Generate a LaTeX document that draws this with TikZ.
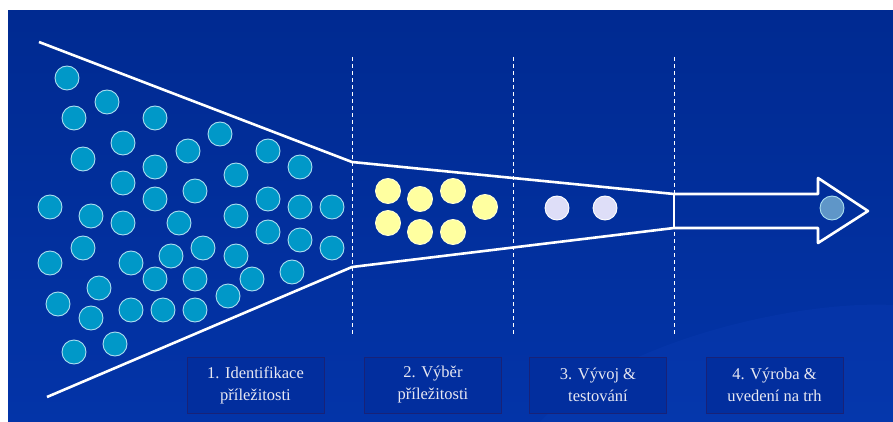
\documentclass[tikz,border=0pt]{standalone}
\usepackage{fontspec}
\setmainfont{Liberation Serif}
\usetikzlibrary{calc}
\usetikzlibrary{positioning}

\definecolor{bgblue}{RGB}{0,42,145}
\definecolor{bgblueb}{RGB}{3,52,168}
\definecolor{swoosh}{RGB}{12,62,182}
\definecolor{boxblue}{RGB}{2,46,158}
\definecolor{boxline}{RGB}{24,34,120}
\definecolor{teal}{RGB}{0,152,200}
\definecolor{tealrim}{RGB}{170,222,240}
\definecolor{lemon}{RGB}{255,255,160}
\definecolor{lemonrim}{RGB}{255,255,210}
\definecolor{lilac}{RGB}{222,222,248}
\definecolor{steel}{RGB}{95,150,200}
\definecolor{labeltext}{RGB}{232,232,242}

\tikzset{
  dot/.style={circle, minimum size=24pt, inner sep=0pt, line width=.9pt},
  idea/.style={dot, fill=teal, draw=tealrim},
  pick/.style={dot, minimum size=25pt, fill=lemon, draw=lemonrim},
  proto/.style={dot, fill=lilac, draw=white},
  product/.style={dot, fill=steel, draw=tealrim},
  stage/.style={draw=boxline, fill=boxblue, line width=.8pt, minimum width=137pt,
    minimum height=56pt, align=center, text=labeltext, inner sep=0pt,
    font=\fontsize{16.5}{22}\selectfont},
  funnel/.style={white, line width=2.6pt, line join=round},
  border/.style={white, line width=.8pt, dash pattern=on 4pt off 3pt}
}

\begin{document}
\begin{tikzpicture}[x=1pt,y=-1pt]
\useasboundingbox (0,0) rectangle (893,422);
\fill[white] (0,0) rectangle (893,422);
\shade[top color=bgblue, bottom color=bgblueb] (8,11) rectangle (893,422);
\fill[swoosh, opacity=.3] (540,422) .. controls (610,345) and (790,300) .. (893,305) -- (893,422) -- cycle;

% stage borders
\foreach \x [count=\i] in {352, 513, 674} {
 \coordinate (b\i top) at (\x,57);
 \coordinate (b\i bot) at (\x,336);
 \draw[border] (b\i top) -- (b\i bot);
}

% funnel and arrow
\coordinate (mouthT) at (39,42);
\coordinate (neckT) at (352,162);
\coordinate (shaftT) at (674,194);
\coordinate (shaftB) at (674,228);
\coordinate (neckB) at (352,267);
\coordinate (mouthB) at (47,397);
\draw[funnel] (mouthT) -- (neckT) -- (shaftT) -- ++(144,0) -- ++(0,-16) -- (868,211)
  -- (818,243) -- ++(0,-15) -- (shaftB) -- (neckB) -- (mouthB);
\draw[funnel] (shaftT) -- (shaftB);

% ideas
\foreach \x/\y [count=\i] in {67/78, 107/102, 74/118, 155/118, 220/134, 123/143, 188/151,
  268/151, 83/159, 155/167, 300/167, 236/175, 123/183, 195/191, 155/199, 268/199,
  50/207, 300/207, 332/207, 91/216, 236/216, 123/223, 179/223, 268/232, 300/240,
  332/248, 83/248, 50/263, 131/263, 171/256, 203/248, 236/256, 99/288, 155/279,
  195/279, 252/279, 292/272, 228/296, 58/304, 131/310, 163/310, 195/310, 91/318,
  115/344, 74/352}
 \node[idea] (i\i) at (\x,\y) {};

\foreach \x/\y [count=\i] in {388/191, 420/199, 453/191, 485/207, 388/223, 420/232, 453/232}
 \node[pick] (p\i) at (\x,\y) {};

\node[proto] (t1) at (557,208) {};
\node[proto] (t2) at (605,208) {};
\node[product] (r1) at (832,208) {};

% stage labels
\node[stage] (s1) at (255.5,385) {1. Identifikace\\příležitosti};
\node[stage] (s2) at (433,385) {2. Výběr\\příležitosti};
\node[stage] (s3) at (598,385) {3. Vývoj \&\\testování};
\node[stage] (s4) at (774.5,385) {4. Výroba \&\\uvedení na trh};
\end{tikzpicture}
\end{document}
